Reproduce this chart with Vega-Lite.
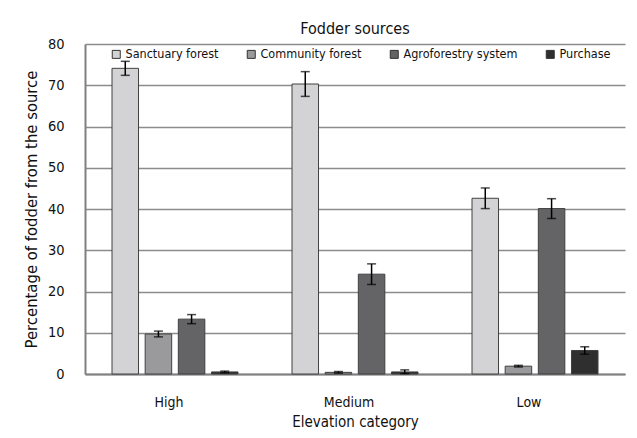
{
  "$schema": "https://vega.github.io/schema/vega-lite/v6.json",
  "width": 540,
  "height": 330,
  "autosize": {"type": "none"},
  "padding": {"left": 85, "top": 44, "right": 12, "bottom": 64},
  "background": "white",
  "title": {
    "text": "Fodder sources",
    "font": "DejaVu Sans Condensed",
    "fontSize": 16,
    "fontWeight": "normal",
    "color": "#111",
    "offset": -1
  },
  "config": {
    "view": {"stroke": null},
    "font": "DejaVu Sans Condensed"
  },
  "data": {
    "values": [
      {"elev": "High", "source": "Sanctuary forest", "pct": 74.1, "lo": 72.4, "hi": 75.8},
      {"elev": "High", "source": "Community forest", "pct": 9.7, "lo": 9.0, "hi": 10.4},
      {"elev": "High", "source": "Agroforestry system", "pct": 13.3, "lo": 12.2, "hi": 14.4},
      {"elev": "High", "source": "Purchase", "pct": 0.5, "lo": 0.3, "hi": 0.7},
      {"elev": "Medium", "source": "Sanctuary forest", "pct": 70.3, "lo": 67.3, "hi": 73.3},
      {"elev": "Medium", "source": "Community forest", "pct": 0.4, "lo": 0.2, "hi": 0.6},
      {"elev": "Medium", "source": "Agroforestry system", "pct": 24.2, "lo": 21.7, "hi": 26.7},
      {"elev": "Medium", "source": "Purchase", "pct": 0.5, "lo": 0.1, "hi": 1.0},
      {"elev": "Low", "source": "Sanctuary forest", "pct": 42.6, "lo": 40.1, "hi": 45.1},
      {"elev": "Low", "source": "Community forest", "pct": 1.9, "lo": 1.7, "hi": 2.1},
      {"elev": "Low", "source": "Agroforestry system", "pct": 40.1, "lo": 37.7, "hi": 42.5},
      {"elev": "Low", "source": "Purchase", "pct": 5.7, "lo": 4.8, "hi": 6.6}
    ]
  },
  "encoding": {
    "x": {
      "field": "elev",
      "type": "nominal",
      "sort": ["High", "Medium", "Low"],
      "scale": {"paddingInner": 0.3, "paddingOuter": 0.15},
      "axis": {
        "title": "Elevation category",
        "titleFontSize": 15,
        "titleFontWeight": "normal",
        "titleColor": "#111",
        "titlePadding": 5,
        "labelAngle": 0,
        "labelFontSize": 14,
        "labelColor": "#111",
        "labelPadding": 21,
        "labelOffset": -6,
        "ticks": false,
        "domainColor": "#808080",
        "domainWidth": 2
      }
    },
    "xOffset": {
      "field": "source",
      "type": "nominal",
      "sort": ["Sanctuary forest", "Community forest", "Agroforestry system", "Purchase"],
      "scale": {"paddingInner": 0.2, "paddingOuter": 0}
    }
  },
  "layer": [
    {
      "mark": {"type": "bar", "stroke": "#404040", "strokeWidth": 1},
      "encoding": {
        "y": {
          "field": "pct",
          "type": "quantitative",
          "scale": {"domain": [0, 80]},
          "axis": {
            "title": "Percentage of fodder from the source",
            "titleFontSize": 16.5,
            "titleFontWeight": "normal",
            "titleColor": "#111",
            "titlePadding": 8,
            "labelFontSize": 14.5,
            "labelColor": "#111",
            "labelPadding": 21,
            "labelOverlap": false,
            "ticks": false,
            "values": [0, 10, 20, 30, 40, 50, 60, 70, 80],
            "grid": true,
            "gridColor": "#8c8c8c",
            "gridWidth": 1.5,
            "domainColor": "#808080",
            "domainWidth": 2
          }
        },
        "fill": {
          "field": "source",
          "type": "nominal",
          "sort": ["Sanctuary forest", "Community forest", "Agroforestry system", "Purchase"],
          "scale": {
            "domain": ["Sanctuary forest", "Community forest", "Agroforestry system", "Purchase"],
            "range": ["#d3d3d5", "#9a9a9c", "#646466", "#2f2f2f"]
          },
          "legend": {
            "title": null,
            "orient": "none",
            "legendX": 25,
            "legendY": 4,
            "direction": "horizontal",
            "columns": 4,
            "columnPadding": 26,
            "symbolType": "square",
            "symbolSize": 64,
            "symbolStrokeColor": "#333",
            "symbolStrokeWidth": 1,
            "labelFontSize": 12.5,
            "labelColor": "#111",
            "labelOffset": 3,
            "labelLimit": 200
          }
        }
      }
    },
    {
      "mark": {"type": "rule", "color": "#000", "strokeWidth": 1.5},
      "encoding": {
        "y": {"field": "lo", "type": "quantitative"},
        "y2": {"field": "hi"}
      }
    },
    {
      "mark": {"type": "tick", "color": "#000", "thickness": 1.5, "size": 9, "orient": "horizontal"},
      "encoding": {
        "y": {"field": "lo", "type": "quantitative"}
      }
    },
    {
      "mark": {"type": "tick", "color": "#000", "thickness": 1.5, "size": 9, "orient": "horizontal"},
      "encoding": {
        "y": {"field": "hi", "type": "quantitative"}
      }
    }
  ]
}
